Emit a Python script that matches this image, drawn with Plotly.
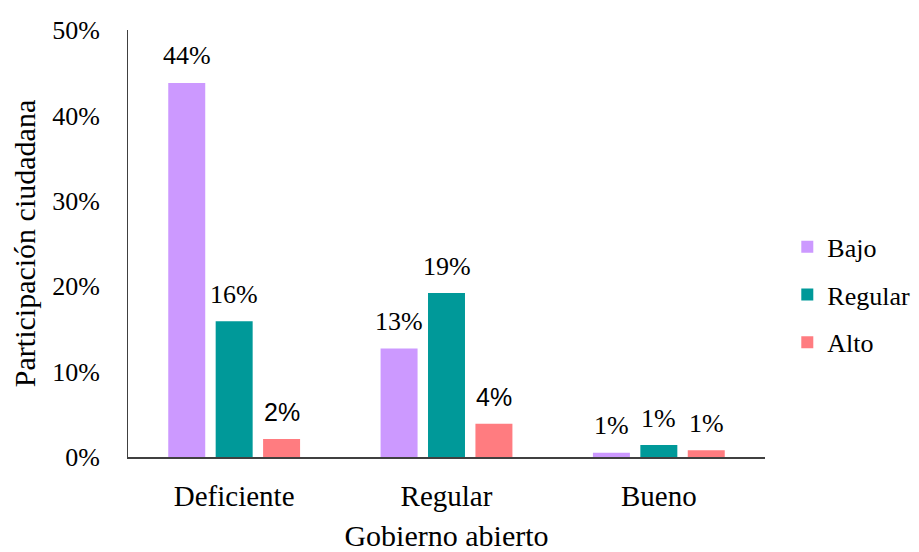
import plotly.graph_objects as go

categories = ["Deficiente", "Regular", "Bueno"]
series_names = ["Bajo", "Regular", "Alto"]
bajo = [43.8, 12.7, 0.5]
regular = [15.9, 19.2, 1.4]
alto = [2.1, 3.9, 0.8]
label_bajo = ["44%", "13%", "1%"]
label_regular = ["16%", "19%", "1%"]
label_alto = ["2%", "4%", "1%"]
y_ticks = [0, 10, 20, 30, 40, 50]
y_tick_labels = ["0%", "10%", "20%", "30%", "40%", "50%"]

colors = ["#CC99FF", "#009999", "#FF7C80"]
serif = "Liberation Serif"
sans = "Liberation Sans"
label_fonts = [
    [serif, serif, serif],
    [serif, serif, serif],
    [sans, sans, serif],
]

fig = go.Figure()
all_vals = [bajo, regular, alto]
all_labels = [label_bajo, label_regular, label_alto]
for i, (name, vals, labs) in enumerate(zip(series_names, all_vals, all_labels)):
    fig.add_trace(go.Bar(
        x=categories, y=vals, name=name,
        marker=dict(color=colors[i], line=dict(width=0)),
        legendgroup=name,
        hoverinfo="skip",
    ))

offsets = [-1, 0, 1]
for i, (vals, labs) in enumerate(zip(all_vals, all_labels)):
    for j, (c, v, t) in enumerate(zip(categories, vals, labs)):
        fam = label_fonts[i][j]
        fig.add_annotation(
            x=j, y=v, xref="x", yref="y", text=t, showarrow=False,
            xshift=offsets[i] * 47.5, yshift=27, yanchor="middle",
            font=dict(family=fam, size=26 if fam == serif else 25, color="#000000"),
        )

fig.update_layout(
    width=919, height=544,
    margin=dict(l=120, r=162, t=22, b=95, autoexpand=False),
    paper_bgcolor="white", plot_bgcolor="white",
    barmode="group", bargap=0.33, bargroupgap=0.22,
    font=dict(family=serif, size=26, color="#000000"),
    showlegend=True,
    legend=dict(
        x=1.035, y=0.38, xanchor="left", yanchor="middle",
        traceorder="grouped", tracegroupgap=11,
        font=dict(family=serif, size=26, color="#000000"),
        itemwidth=30, bgcolor="rgba(0,0,0,0)",
    ),
    xaxis=dict(
        type="category", showgrid=False, showline=True, linecolor="#404040", linewidth=1.5,
        ticks="", ticklabelstandoff=12, automargin=False,
        title=dict(text="Gobierno abierto", standoff=20, font=dict(family=serif, size=30)),
        tickfont=dict(family=serif, size=29),
    ),
    yaxis=dict(
        range=[0, 50], tickvals=y_ticks, ticktext=y_tick_labels,
        showgrid=False, showline=True, linecolor="#404040", linewidth=1,
        ticks="", ticklabelstandoff=22, zeroline=False, automargin=False,
        title=dict(text="Participación ciudadana", standoff=10, font=dict(family=serif, size=30)),
        tickfont=dict(family=serif, size=26),
    ),
)

fig.write_html("out.html")
